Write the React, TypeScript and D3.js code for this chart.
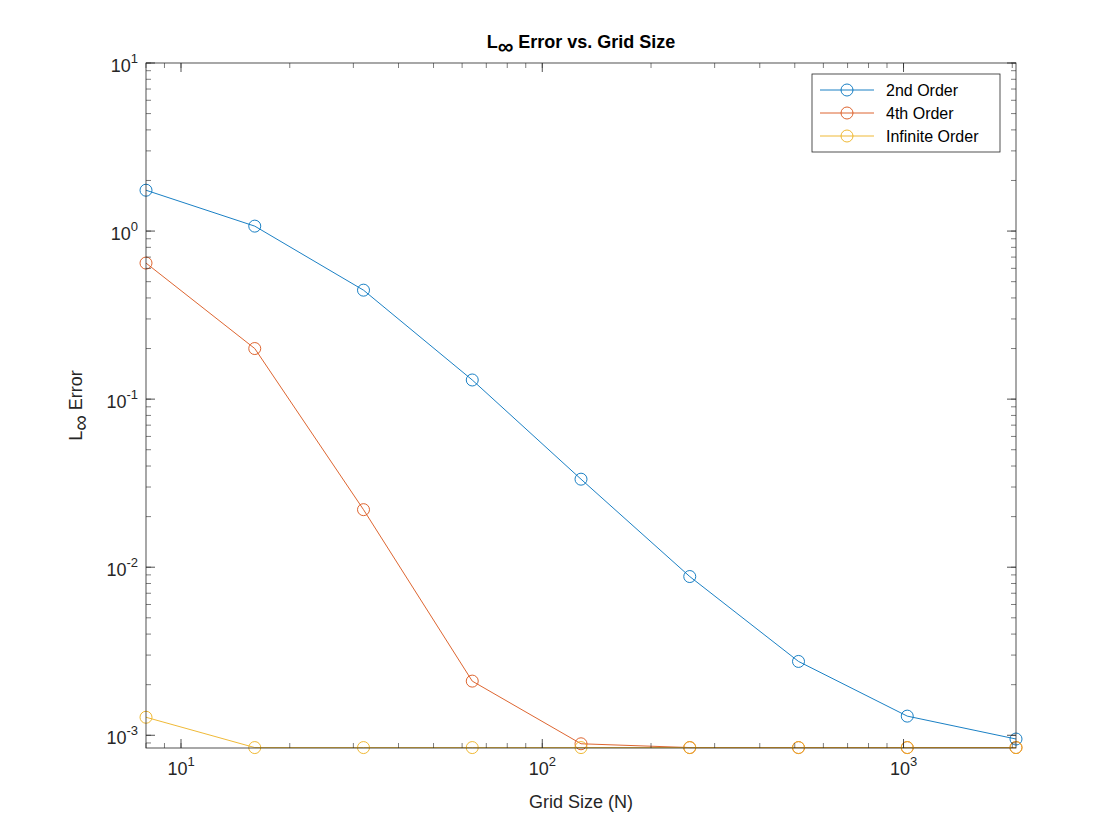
import React from "react";
import * as d3 from "d3";

const gridSizes = [8, 16, 32, 64, 128, 256, 512, 1024, 2048];
const order2 = [1.75, 1.07, 0.445, 0.13, 0.0334, 0.0088, 0.00275, 0.0013, 0.00095];
const order4 = [0.645, 0.2, 0.022, 0.0021, 0.00089, 0.000845, 0.000845, 0.000845, 0.000845];
const orderInf = [0.00128, 0.000845, 0.000845, 0.000845, 0.000845, 0.000845, 0.000845, 0.000845, 0.000845];
const seriesNames = ["2nd Order", "4th Order", "Infinite Order"];
const colors = ["#0072BD", "#D95319", "#EDB120"];
const xTicks = [10, 100, 1000];
const yTicks = [1e-3, 1e-2, 1e-1, 1, 10];

export default function App() {
  const W = 1120, H = 840;
  const L = 146, R = 1016, T = 63, B = 748;
  const x = d3.scaleLog().domain([8, 2048]).range([L, R]);
  const y = d3.scaleLog().domain([0.00084, 10]).range([B, T]);
  const all = [order2, order4, orderInf];
  const line = d3.line<number>().x((_, i) => x(gridSizes[i])).y((d) => y(d));
  const xMinor: number[] = [];
  for (let e = 0; e <= 3; e++) for (let k = 1; k < 10; k++) { const v = k * 10 ** e; if (v >= 8 && v <= 2048) xMinor.push(v); }
  const yMinor: number[] = [];
  for (let e = -4; e <= 1; e++) for (let k = 1; k < 10; k++) { const v = k * 10 ** e; if (v >= 0.00084 && v <= 10) yMinor.push(v); }
  const font = "Helvetica, Arial, 'Liberation Sans', sans-serif";
  const c = "#262626";
  return (
    <svg width={W} height={H} style={{ display: "block", position: "absolute", left: 0, top: 0, background: "#fff" }} fontFamily={font}>
      <rect x={0} y={0} width={W} height={H} fill="#fff" />
      {all.map((s, i) => (
        <g key={i}>
          <path d={line(s) || ""} fill="none" stroke={colors[i]} strokeWidth={0.9} />
          {s.map((v, j) => (
            <circle key={j} cx={x(gridSizes[j])} cy={y(v)} r={6} fill="none" stroke={colors[i]} strokeWidth={0.9} />
          ))}
        </g>
      ))}
      <rect x={L} y={T} width={R - L} height={B - T} fill="none" stroke={c} strokeWidth={0.8} />
      {xMinor.map((v, i) => (
        <g key={i} stroke={c} strokeWidth={0.6}>
          <line x1={x(v)} x2={x(v)} y1={B} y2={B - 5} />
          <line x1={x(v)} x2={x(v)} y1={T} y2={T + 5} />
        </g>
      ))}
      {xTicks.map((v, i) => (
        <g key={i}>
          <line x1={x(v)} x2={x(v)} y1={B} y2={B - 9} stroke={c} strokeWidth={0.8} />
          <line x1={x(v)} x2={x(v)} y1={T} y2={T + 9} stroke={c} strokeWidth={0.8} />
          <text x={x(v)} y={B + 27} textAnchor="middle" fontSize={18} fill={c}>
            10<tspan dy={-9} fontSize={13}>{Math.round(Math.log10(v))}</tspan>
          </text>
        </g>
      ))}
      {yMinor.map((v, i) => (
        <g key={i} stroke={c} strokeWidth={0.6}>
          <line x1={L} x2={L + 5} y1={y(v)} y2={y(v)} />
          <line x1={R} x2={R - 5} y1={y(v)} y2={y(v)} />
        </g>
      ))}
      {yTicks.map((v, i) => (
        <g key={i}>
          <line x1={L} x2={L + 9} y1={y(v)} y2={y(v)} stroke={c} strokeWidth={0.8} />
          <line x1={R} x2={R - 9} y1={y(v)} y2={y(v)} stroke={c} strokeWidth={0.8} />
          <text x={L - 8} y={y(v) + 9} textAnchor="end" fontSize={18} fill={c}>
            10<tspan dy={-9} fontSize={13}>{Math.round(Math.log10(v))}</tspan>
          </text>
        </g>
      ))}
      <text x={(L + R) / 2} y={48} textAnchor="middle" fontSize={18} fontWeight="bold" fill="#000">
        L<tspan dy={6} fontSize={22}>∞</tspan><tspan dy={-6}> Error vs. Grid Size</tspan>
      </text>
      <text x={(L + R) / 2} y={808} textAnchor="middle" fontSize={18} fill={c}>Grid Size (N)</text>
      <text transform={`translate(82, ${(T + B) / 2}) rotate(-90)`} textAnchor="middle" fontSize={18} fill={c}>
        L<tspan dy={6} fontSize={22}>∞</tspan><tspan dy={-6}> Error</tspan>
      </text>
      <g transform="translate(812, 74)">
        <rect x={0} y={0} width={188} height={78} fill="#fff" stroke={c} strokeWidth={0.8} />
        {seriesNames.map((n, i) => (
          <g key={i} transform={`translate(0, ${16 + i * 23})`}>
            <line x1={8} x2={62} y1={0} y2={0} stroke={colors[i]} strokeWidth={0.9} />
            <circle cx={35} cy={0} r={6} fill="none" stroke={colors[i]} strokeWidth={0.9} />
            <text x={74} y={6} fontSize={16} fill="#000">{n}</text>
          </g>
        ))}
      </g>
    </svg>
  );
}
